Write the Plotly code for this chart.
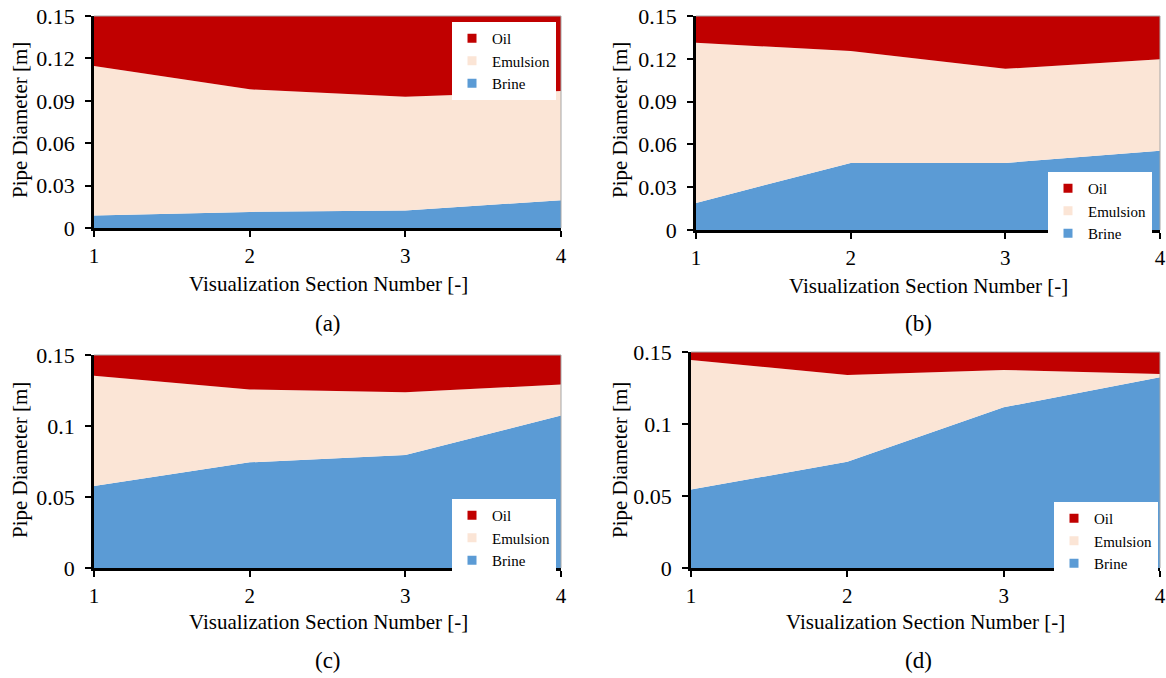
import plotly.graph_objects as go

sections = [1, 2, 3, 4]

# Panel (a)
brine_a = [0.0088, 0.0114, 0.0123, 0.0197]
emulsion_a = [0.1059, 0.0867, 0.0806, 0.0772]
oil_a = [0.0353, 0.0519, 0.0571, 0.0531]
# Panel (b)
brine_b = [0.0190, 0.0470, 0.0470, 0.0555]
emulsion_b = [0.1123, 0.0784, 0.0660, 0.0641]
oil_b = [0.0187, 0.0246, 0.0370, 0.0304]
# Panel (c)
brine_c = [0.0578, 0.0744, 0.0796, 0.1074]
emulsion_c = [0.0775, 0.0513, 0.0442, 0.0218]
oil_c = [0.0147, 0.0243, 0.0262, 0.0208]
# Panel (d)
brine_d = [0.0545, 0.0737, 0.1116, 0.1324]
emulsion_d = [0.0900, 0.0604, 0.0259, 0.0023]
oil_d = [0.0055, 0.0159, 0.0125, 0.0153]

ticks_fine = [0, 0.03, 0.06, 0.09, 0.12, 0.15]
ticks_fine_text = ["0", "0.03", "0.06", "0.09", "0.12", "0.15"]
ticks_coarse = [0, 0.05, 0.1, 0.15]
ticks_coarse_text = ["0", "0.05", "0.1", "0.15"]

series_names = ["Brine", "Emulsion", "Oil"]
colors = {"Oil": "#C00000", "Emulsion": "#FBE5D6", "Brine": "#5B9BD5"}

W, H = 1166, 678
FONT = "Liberation Serif, Times New Roman, serif"

panels = [
    dict(key="a", data=(brine_a, emulsion_a, oil_a), px=(94, 561), py=(16, 228),
         ticks=(ticks_fine, ticks_fine_text), legend=(556, 22), label=(328, 323),
         xt=(328, 284), yt=(20, 120)),
    dict(key="b", data=(brine_b, emulsion_b, oil_b), px=(696, 1160), py=(16, 230),
         ticks=(ticks_fine, ticks_fine_text), legend=(1152, 172), label=(918, 323),
         xt=(928, 286), yt=(620, 120)),
    dict(key="c", data=(brine_c, emulsion_c, oil_c), px=(94, 561), py=(355, 568),
         ticks=(ticks_coarse, ticks_coarse_text), legend=(556, 499), label=(328, 660),
         xt=(328, 622), yt=(20, 460)),
    dict(key="d", data=(brine_d, emulsion_d, oil_d), px=(691, 1160), py=(352, 568),
         ticks=(ticks_coarse, ticks_coarse_text), legend=(1158, 502), label=(918, 660),
         xt=(925, 622), yt=(620, 460)),
]

fig = go.Figure()
layout = dict(
    width=W, height=H,
    margin=dict(l=0, r=0, t=0, b=0, autoexpand=False),
    paper_bgcolor="white", plot_bgcolor="white",
    font=dict(family=FONT, color="black", size=21),
    showlegend=True,
)
annotations = []
shapes = []

for i, p in enumerate(panels):
    n = i + 1
    xa = "x" if n == 1 else f"x{n}"
    ya = "y" if n == 1 else f"y{n}"
    leg = "legend" if n == 1 else f"legend{n}"
    for name, vals in zip(series_names, p["data"]):
        fig.add_trace(go.Scatter(
            x=sections, y=vals, name=name, stackgroup=p["key"], mode="none",
            fillcolor=colors[name], xaxis=xa, yaxis=ya, showlegend=False,
            hoverinfo="x+y+name"))
    for name in ["Oil", "Emulsion", "Brine"]:
        fig.add_trace(go.Scatter(
            x=[None], y=[None], name=name, mode="markers",
            marker=dict(symbol="square", size=9, color=colors[name]),
            xaxis=xa, yaxis=ya, legend=leg, showlegend=True))
    xd = [p["px"][0] / W, p["px"][1] / W]
    yd = [1 - p["py"][1] / H, 1 - p["py"][0] / H]
    xkey = "xaxis" if n == 1 else f"xaxis{n}"
    ykey = "yaxis" if n == 1 else f"yaxis{n}"
    layout[xkey] = dict(
        domain=xd, anchor=ya, range=[1, 4], tickvals=sections,
        showline=True, linecolor="black", linewidth=2.5,
        ticks="outside", ticklen=6, tickwidth=1.5, tickcolor="black",
        showgrid=False, zeroline=False, tickfont=dict(size=21),
        ticklabelstandoff=1, automargin=False)
    layout[ykey] = dict(
        domain=yd, anchor=xa, range=[0, 0.15],
        tickvals=p["ticks"][0], ticktext=p["ticks"][1],
        showline=True, linecolor="black", linewidth=2.5,
        ticks="outside", ticklen=6, tickwidth=1.5, tickcolor="black",
        showgrid=False, zeroline=False, tickfont=dict(size=22),
        ticklabelstandoff=6, automargin=False)
    layout[leg] = dict(
        x=p["legend"][0] / W, y=1 - p["legend"][1] / H,
        xanchor="right", yanchor="top", bgcolor="white",
        font=dict(family=FONT, size=15), itemwidth=30,
        traceorder="normal", tracegroupgap=0, borderwidth=0)
    # thin plot border top and right
    shapes.append(dict(type="line", xref="paper", yref="paper",
                       x0=xd[0], x1=xd[1], y0=yd[1], y1=yd[1],
                       line=dict(color="#A6A6A6", width=1)))
    shapes.append(dict(type="line", xref="paper", yref="paper",
                       x0=xd[1], x1=xd[1], y0=yd[0], y1=yd[1],
                       line=dict(color="#A6A6A6", width=1)))
    annotations.append(dict(
        text="Visualization Section Number [-]", xref="paper", yref="paper",
        x=p["xt"][0] / W, y=1 - p["xt"][1] / H, xanchor="center", yanchor="middle",
        showarrow=False, font=dict(size=21)))
    annotations.append(dict(
        text="Pipe Diameter [m]", xref="paper", yref="paper",
        x=p["yt"][0] / W, y=1 - p["yt"][1] / H, xanchor="center", yanchor="middle",
        textangle=-90, showarrow=False, font=dict(size=21)))
    annotations.append(dict(
        text=f"({p['key']})", xref="paper", yref="paper",
        x=p["label"][0] / W, y=1 - p["label"][1] / H, xanchor="center", yanchor="middle",
        showarrow=False, font=dict(size=23)))

layout["annotations"] = annotations
layout["shapes"] = shapes
fig.update_layout(**layout)
fig.write_html(
    "out.html",
    config={"displayModeBar": False},
    post_script="document.body.style.margin='0';document.body.style.padding='0';",
)
